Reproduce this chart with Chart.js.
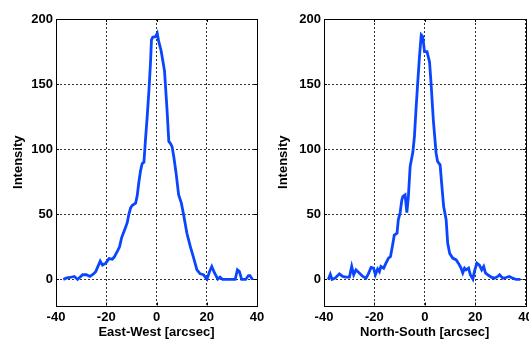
<!DOCTYPE html>
<html>
<head>
<meta charset="utf-8">
<script src="https://cdn.jsdelivr.net/npm/chart.js@4/dist/chart.umd.min.js"></script>
<style>
  html, body { margin:0; padding:0; background:#fff; width:529px; height:340px; overflow:hidden; }
  #wrap { position:relative; width:529px; height:340px; overflow:hidden; }
  canvas { position:absolute; top:0; }
  #c1 { left:0; }
  #c2 { left:265px; }
</style>
</head>
<body>
<div id="wrap">
  <canvas id="c1" width="265" height="340"></canvas>
  <canvas id="c2" width="270" height="340"></canvas>
</div>
<script>
// ---- data ----
const ewX = [-37.1,-36.0,-34.5,-32.7,-31.4,-29.4,-27.9,-26.5,-25.2,-24.2,-22.4,-21.5,-20.2,-18.9,-17.6,-16.9,-15.6,-14.7,-13.9,-12.3,-11.6,-11.0,-10.3,-9.6,-8.3,-7.7,-7.0,-6.3,-5.7,-5.0,-4.4,-3.7,-3.0,-2.4,-2.0,-1.5,-0.4,0.3,0.9,1.8,2.6,3.2,3.6,4.2,4.9,5.5,6.2,6.9,7.8,8.8,9.9,10.8,12.1,13.5,14.8,16.1,17.4,18.7,20.1,21.1,22.0,23.1,24.4,25.3,26.3,28.6,31.3,32.2,33.0,33.9,35.5,36.6,37.2,38.2];
const ewY = [0,1,1.5,2.3,0,3.6,3.6,2.3,4,6,14,11,12.5,16,15.6,17,21.5,25,32,40,44,50,55,57,58.6,64,75,84,89,90,107,125,145.5,166,184,186,186.4,189,182.6,176,167,160,148,130,106,104.6,102,94,81.6,65,58.6,49.6,35.5,25,16.4,7.4,4.3,3.6,0.3,6,10,5,0.3,1.8,0,0,0,7.4,6,0,0,3,3,0];
const nsX = [-38.3,-37.5,-36.8,-35.6,-33.9,-32.6,-31.3,-29.9,-29.0,-28.2,-27.3,-26.0,-24.6,-23.3,-22.4,-21.3,-20.3,-19.6,-18.7,-18.0,-17.4,-16.3,-15.4,-14.4,-13.6,-12.9,-12.1,-11.0,-10.5,-9.8,-9.1,-8.7,-7.8,-7.1,-6.5,-5.8,-4.7,-4.1,-3.4,-2.8,-2.1,-1.4,-0.8,-0.1,0.9,1.9,2.5,3.4,4.5,5.1,6.1,6.7,7.5,8.5,9.1,9.9,11.1,12.5,13.8,14.4,15.1,15.8,16.4,17.4,18.1,19.1,19.7,20.7,21.7,22.6,23.4,24.1,25.0,26.4,27.7,29.0,29.7,31.0,32.3,33.6,34.9,36.3,38.0];
const nsY = [0,4,0,1,4.3,2.3,1.8,1.8,10,3.6,7.4,5,2.3,1,4.3,9.2,8.7,3.6,8,6,10,8.7,12.5,16.4,17.6,25,34,35.5,45.8,51,61,63.7,65,51.4,63.7,86.7,98,109.7,132.8,150.7,171,187.8,186.5,175,175,167,150.7,122.6,97,90.6,88,74,56,45.8,28,20,16.4,15,11,8.7,5,8.7,7.4,8.7,3.6,0.3,6,12.5,11,7.4,10,5,3.6,1.8,1,2.3,3.6,1,1.5,2.3,1,0,0];
const xTicks = [-40, -20, 0, 20, 40];
const yTicks = [0, 50, 100, 150, 200];
const xRange = [-40, 40];
const yRange = [-20, 200];
const yTitle = 'Intensity';
const ewTitle = 'East-West [arcsec]';
const nsTitle = 'North-South [arcsec]';

const FONT = { family: '"Liberation Sans", Arial, sans-serif', size: 13, weight: 'bold' };
const LINE_COLOR = '#0b46ff';

// frame box with inward tick marks, positions taken from the scales
const framePlugin = {
  id: 'frame',
  afterDraw(chart) {
    const { ctx, chartArea: a, scales } = chart;
    const L = 3;
    ctx.save();
    ctx.strokeStyle = '#000';
    ctx.lineWidth = 1;
    ctx.setLineDash([]);
    ctx.strokeRect(Math.round(a.left) + 0.5, Math.round(a.top) + 0.5,
                   Math.round(a.right - a.left), Math.round(a.bottom - a.top));
    ctx.beginPath();
    xTicks.forEach(v => {
      const px = Math.round(scales.x.getPixelForValue(v)) + 0.5;
      ctx.moveTo(px, a.bottom); ctx.lineTo(px, a.bottom - L);
      ctx.moveTo(px, a.top); ctx.lineTo(px, a.top + L);
    });
    yTicks.forEach(v => {
      const py = Math.round(scales.y.getPixelForValue(v)) + 0.5;
      ctx.moveTo(a.left, py); ctx.lineTo(a.left + L, py);
      ctx.moveTo(a.right, py); ctx.lineTo(a.right - L, py);
    });
    ctx.stroke();
    ctx.restore();
  }
};

function makeChart(id, xs, ys, xTitle, yAxisWidth, padRight) {
  const pts = xs.map((x, i) => ({ x: x, y: ys[i] }));
  return new Chart(document.getElementById(id), {
    type: 'line',
    data: {
      datasets: [{
        data: pts,
        borderColor: LINE_COLOR,
        borderWidth: 2.8,
        pointRadius: 0,
        tension: 0,
        fill: false
      }]
    },
    options: {
      responsive: false,
      animation: false,
      devicePixelRatio: 1,
      layout: { padding: { left: 0, top: 19, right: padRight, bottom: 0 } },
      plugins: { legend: { display: false }, tooltip: { enabled: false } },
      scales: {
        x: {
          type: 'linear',
          min: xRange[0], max: xRange[1],
          afterBuildTicks: s => { s.ticks = xTicks.map(v => ({ value: v })); },
          afterFit: s => { s.height = 34.5; s.paddingLeft = 0; s.paddingRight = 0; },
          ticks: { font: FONT, color: '#000', padding: 4, maxRotation: 0, autoSkip: false },
          grid: { color: 'rgba(0,0,0,0.8)', lineWidth: 1, drawTicks: false, borderDash: [2, 2] },
          border: { display: false, dash: [2, 2] },
          title: { display: true, text: xTitle, font: FONT, color: '#000', padding: { top: 0, bottom: 0 } }
        },
        y: {
          type: 'linear',
          min: yRange[0], max: yRange[1],
          afterBuildTicks: s => { s.ticks = yTicks.map(v => ({ value: v })); },
          afterFit: s => { s.width = yAxisWidth; },
          ticks: { font: FONT, color: '#000', padding: 3, autoSkip: false },
          grid: { color: 'rgba(0,0,0,0.8)', lineWidth: 1, drawTicks: false, borderDash: [2, 2] },
          border: { display: false, dash: [2, 2] },
          title: { display: true, text: yTitle, font: FONT, color: '#000', padding: { top: 11, bottom: 0 } }
        }
      }
    },
    plugins: [framePlugin]
  });
}

makeChart('c1', ewX, ewY, ewTitle, 56, 8);
makeChart('c2', nsX, nsY, nsTitle, 59, 9.5);
</script>
</body>
</html>
